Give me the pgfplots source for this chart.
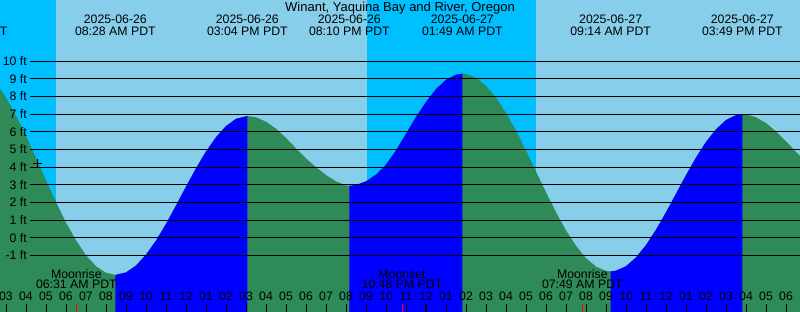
\documentclass[border=0pt]{standalone}
\usepackage{pgfplots}
\pgfplotsset{compat=1.18}
\usepgfplotslibrary{fillbetween}
\tikzset{fill between/on layer=main}
\usepackage{pgfplotstable}
\usepackage{fontspec}
\setmainfont{Liberation Sans}
\definecolor{night}{HTML}{00BFFF}
\definecolor{day}{HTML}{87CEEB}
\definecolor{ebb}{HTML}{2E8B57}
\definecolor{flood}{HTML}{0000FF}

\pgfplotstableread{
t h
2.6 8.63
3.0 7.94
3.5 6.92
4.0 5.76
4.5 4.53
5.0 3.26
5.5 2.03
6.0 0.87
6.5 -0.14
7.0 -0.99
7.5 -1.61
8.0 -1.98
8.467 -2.10
9.0 -1.96
9.5 -1.57
10.0 -0.95
10.5 -0.16
11.0 0.79
11.5 1.83
12.0 2.90
12.5 3.94
13.0 4.89
13.5 5.70
14.0 6.33
14.5 6.74
15.067 6.90
15.5 6.83
16.0 6.58
16.5 6.18
17.0 5.66
17.5 5.07
18.0 4.50
18.5 4.00
19.0 3.56
19.5 3.20
20.0 2.97
20.167 2.95
20.5 2.99
21.0 3.20
21.5 3.58
22.0 4.15
22.5 4.95
23.0 5.90
23.5 6.85
24.0 7.70
24.5 8.43
25.0 8.95
25.5 9.24
25.817 9.30
26.0 9.28
26.5 9.07
27.0 8.61
27.5 7.94
28.0 7.07
28.5 6.07
29.0 4.94
29.5 3.76
30.0 2.58
30.5 1.45
31.0 0.42
31.5 -0.45
32.0 -1.15
32.5 -1.63
33.0 -1.87
33.233 -1.90
33.5 -1.86
34.0 -1.61
34.5 -1.11
35.0 -0.41
35.5 0.46
36.0 1.45
36.5 2.50
37.0 3.55
37.5 4.55
38.0 5.43
38.5 6.15
39.0 6.67
39.5 6.95
39.817 7.00
40.0 6.99
40.5 6.83
41.0 6.50
41.5 6.03
42.0 5.47
42.5 4.87
42.8 4.52
}\tide

\begin{document}
\begin{tikzpicture}[font=\fontsize{12.3}{14}\selectfont]
\begin{axis}[
  scale only axis, width=800pt, height=312pt,
  xmin=2.7, xmax=42.7, ymin=-4.2, ymax=13.472,
  axis line style={draw=none},
  axis on top,
  ytick=\empty,
  xtick={3,...,42},
  xticklabels={03,04,05,06,07,08,09,10,11,12,01,02,03,04,05,06,07,08,09,10,11,12,01,02,03,04,05,06,07,08,09,10,11,12,01,02,03,04,05,06},
  xtick pos=bottom,
  tick align=inside,
  major tick length=8pt,
  xtick style={black, line width=1pt},
  xticklabel style={anchor=base, yshift=11pt, font=\fontsize{12.3}{14}\selectfont},
  clip=true,
]
% day / night background
\addplot[fill=day, draw=none] coordinates {(2.6,-4.5) (42.8,-4.5) (42.8,14) (2.6,14)};
\addplot[fill=night, draw=none] coordinates {(2.6,-4.5) (5.5,-4.5) (5.5,14) (2.6,14)};
\addplot[fill=night, draw=none] coordinates {(21.05,-4.5) (29.5,-4.5) (29.5,14) (21.05,14)};
% tide
\addplot[name path=tide, draw=none] table[x=t, y=h] {\tide};
\addplot[name path=bot, draw=none] coordinates {(2.6,-4.5) (42.8,-4.5)};
\addplot[fill=ebb, draw=none] fill between[of=tide and bot];
\addplot[fill=flood, draw=none] fill between[of=tide and bot, soft clip={domain=8.467:15.067}];
\addplot[fill=flood, draw=none] fill between[of=tide and bot, soft clip={domain=20.167:25.817}];
\addplot[fill=flood, draw=none] fill between[of=tide and bot, soft clip={domain=33.233:39.817}];
% grid lines and labels
\pgfplotsinvokeforeach{-1,0,1,2,3,4,5,6,7,8,9,10}{
  \addplot[black, line width=1pt] coordinates {(4.2,#1) (42.8,#1)};
  \node[anchor=east, inner sep=0pt] at (axis cs:4.05,#1) {#1 ft};
}
% marker
\addplot[only marks, mark=+, mark size=4.5pt, black, line width=0.8pt] coordinates {(4.585,4.23)};
% midnight and moon ticks
\addplot[black, line width=2.5pt] coordinates {(24,-3.75) (24,-4.3)};
\addplot[red, line width=1pt] coordinates {(6.517,-3.75) (6.517,-4.3)};
\addplot[red, line width=1pt] coordinates {(22.8,-3.75) (22.8,-4.3)};
\addplot[red, line width=1pt] coordinates {(31.817,-3.75) (31.817,-4.3)};
% title
\node[anchor=base, font=\fontsize{13}{15}\selectfont] at (axis cs:22.7,12.821) {Winant, Yaquina Bay and River, Oregon};
% tide event labels
\node[anchor=base] at (axis cs:1.05,12.113) {2025-06-26};
\node[anchor=base] at (axis cs:1.05,11.450) {01:02 AM PDT};
\node[anchor=base] at (axis cs:8.467,12.113) {2025-06-26};
\node[anchor=base] at (axis cs:8.467,11.450) {08:28 AM PDT};
\node[anchor=base] at (axis cs:15.067,12.113) {2025-06-26};
\node[anchor=base] at (axis cs:15.067,11.450) {03:04 PM PDT};
\node[anchor=base] at (axis cs:20.167,12.113) {2025-06-26};
\node[anchor=base] at (axis cs:20.167,11.450) {08:10 PM PDT};
\node[anchor=base] at (axis cs:25.817,12.113) {2025-06-27};
\node[anchor=base] at (axis cs:25.817,11.450) {01:49 AM PDT};
\node[anchor=base] at (axis cs:33.233,12.113) {2025-06-27};
\node[anchor=base] at (axis cs:33.233,11.450) {09:14 AM PDT};
\node[anchor=base] at (axis cs:39.817,12.113) {2025-06-27};
\node[anchor=base] at (axis cs:39.817,11.450) {03:49 PM PDT};
% moon labels
\node[anchor=base] at (axis cs:6.517,-2.291) {Moonrise};
\node[anchor=base] at (axis cs:6.517,-2.897) {06:31 AM PDT};
\node[anchor=base] at (axis cs:22.8,-2.291) {Moonset};
\node[anchor=base] at (axis cs:22.8,-2.897) {10:48 PM PDT};
\node[anchor=base] at (axis cs:31.817,-2.291) {Moonrise};
\node[anchor=base] at (axis cs:31.817,-2.897) {07:49 AM PDT};
\end{axis}
\pgfresetboundingbox
\path[use as bounding box] (current axis.south west) rectangle (current axis.north east);
\end{tikzpicture}
\end{document}
